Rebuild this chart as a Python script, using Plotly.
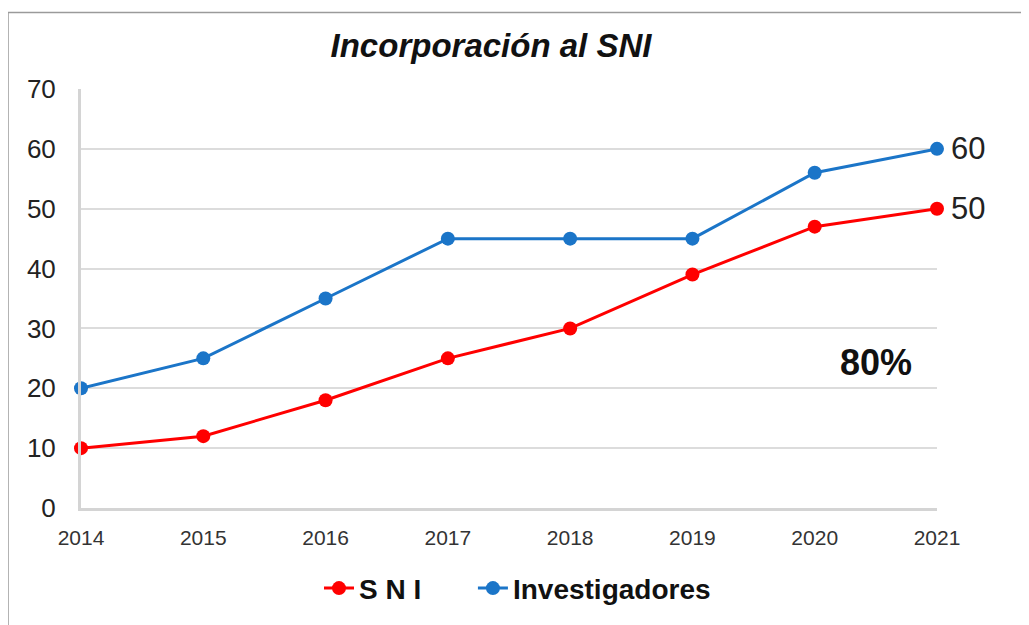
import plotly.graph_objects as go

years = [2014, 2015, 2016, 2017, 2018, 2019, 2020, 2021]
sni = [10, 12, 18, 25, 30, 39, 47, 50]
investigadores = [20, 25, 35, 45, 45, 45, 56, 60]
y_ticks = [0, 10, 20, 30, 40, 50, 60, 70]

RED = "#ff0000"
BLUE = "#1b75c8"
FONT = "Liberation Sans, Arial, sans-serif"
NB = "\u00a0"

fig = go.Figure()
fig.add_trace(go.Scatter(x=years, y=sni, name="S N I" + NB * 6, mode="lines+markers",
                         line=dict(color=RED, width=3), marker=dict(size=14, color=RED),
                         cliponaxis=False))
fig.add_trace(go.Scatter(x=years, y=investigadores, name="Investigadores", mode="lines+markers",
                         line=dict(color=BLUE, width=3), marker=dict(size=14, color=BLUE),
                         cliponaxis=False))

# page has 8px body margin: figure coords = page coords - 8
OFF = 8
W, H = 1029 - OFF, 625 - OFF
L, T = 81 - OFF, 89 - OFF
R = W - (937 - OFF)
B = H - (511 - OFF)
pw, ph = W - L - R, H - T - B

def px_x(page_x):
    return (page_x - OFF - L) / pw

def px_y(page_y):
    return (ph - (page_y - OFF - T)) / ph

fig.update_layout(
    width=W, height=H,
    margin=dict(l=L, r=R, t=T, b=B),
    paper_bgcolor="white", plot_bgcolor="white",
    font=dict(family=FONT, color="#222"),
    title=dict(text="<b><i>Incorporación al SNI</i></b>", x=px_x(491), xref="paper",
               xanchor="center", y=1 - (45 - OFF) / H, yanchor="middle", yref="container",
               font=dict(size=33, color="#111")),
    showlegend=True,
    legend=dict(orientation="h", x=px_x(319), xanchor="left", y=px_y(592),
                yanchor="middle", font=dict(size=28, color="#111", family=FONT, weight="bold"),
                bgcolor="rgba(0,0,0,0)"),
    xaxis=dict(range=[years[0], years[-1]], tickvals=years, ticktext=[str(y) for y in years],
               showgrid=False, zeroline=False, showline=True, linecolor="#d4d4d4", linewidth=3,
               ticks="", ticklabelstandoff=9, tickfont=dict(size=21, color="#333")),
    yaxis=dict(range=[0, 70], tickvals=y_ticks, showgrid=True, gridcolor="#dcdcdc", gridwidth=2,
               zeroline=False, showline=True, linecolor="#d4d4d4", linewidth=3, ticks="",
               ticklabelstandoff=17, tickfont=dict(size=26, color="#222")),
    shapes=[
        dict(type="line", xref="paper", yref="paper", x0=px_x(8), x1=px_x(1040),
             y0=px_y(12), y1=px_y(12), line=dict(color="#9a9a9a", width=1.5)),
        dict(type="line", xref="paper", yref="paper", x0=px_x(8), x1=px_x(8),
             y0=px_y(12), y1=px_y(640), line=dict(color="#9a9a9a", width=1.5)),
    ],
    annotations=[
        dict(x=years[-1], y=investigadores[-1], text=str(investigadores[-1]), showarrow=False,
             xanchor="left", xshift=12, font=dict(size=31, color="#222")),
        dict(x=years[-1], y=sni[-1], text=str(sni[-1]), showarrow=False,
             xanchor="left", xshift=12, font=dict(size=31, color="#222")),
        dict(x=2020.5, y=24.3, text="<b>80%</b>", showarrow=False,
             font=dict(size=36, color="#111")),
    ],
)

fig.write_html("out.html")
